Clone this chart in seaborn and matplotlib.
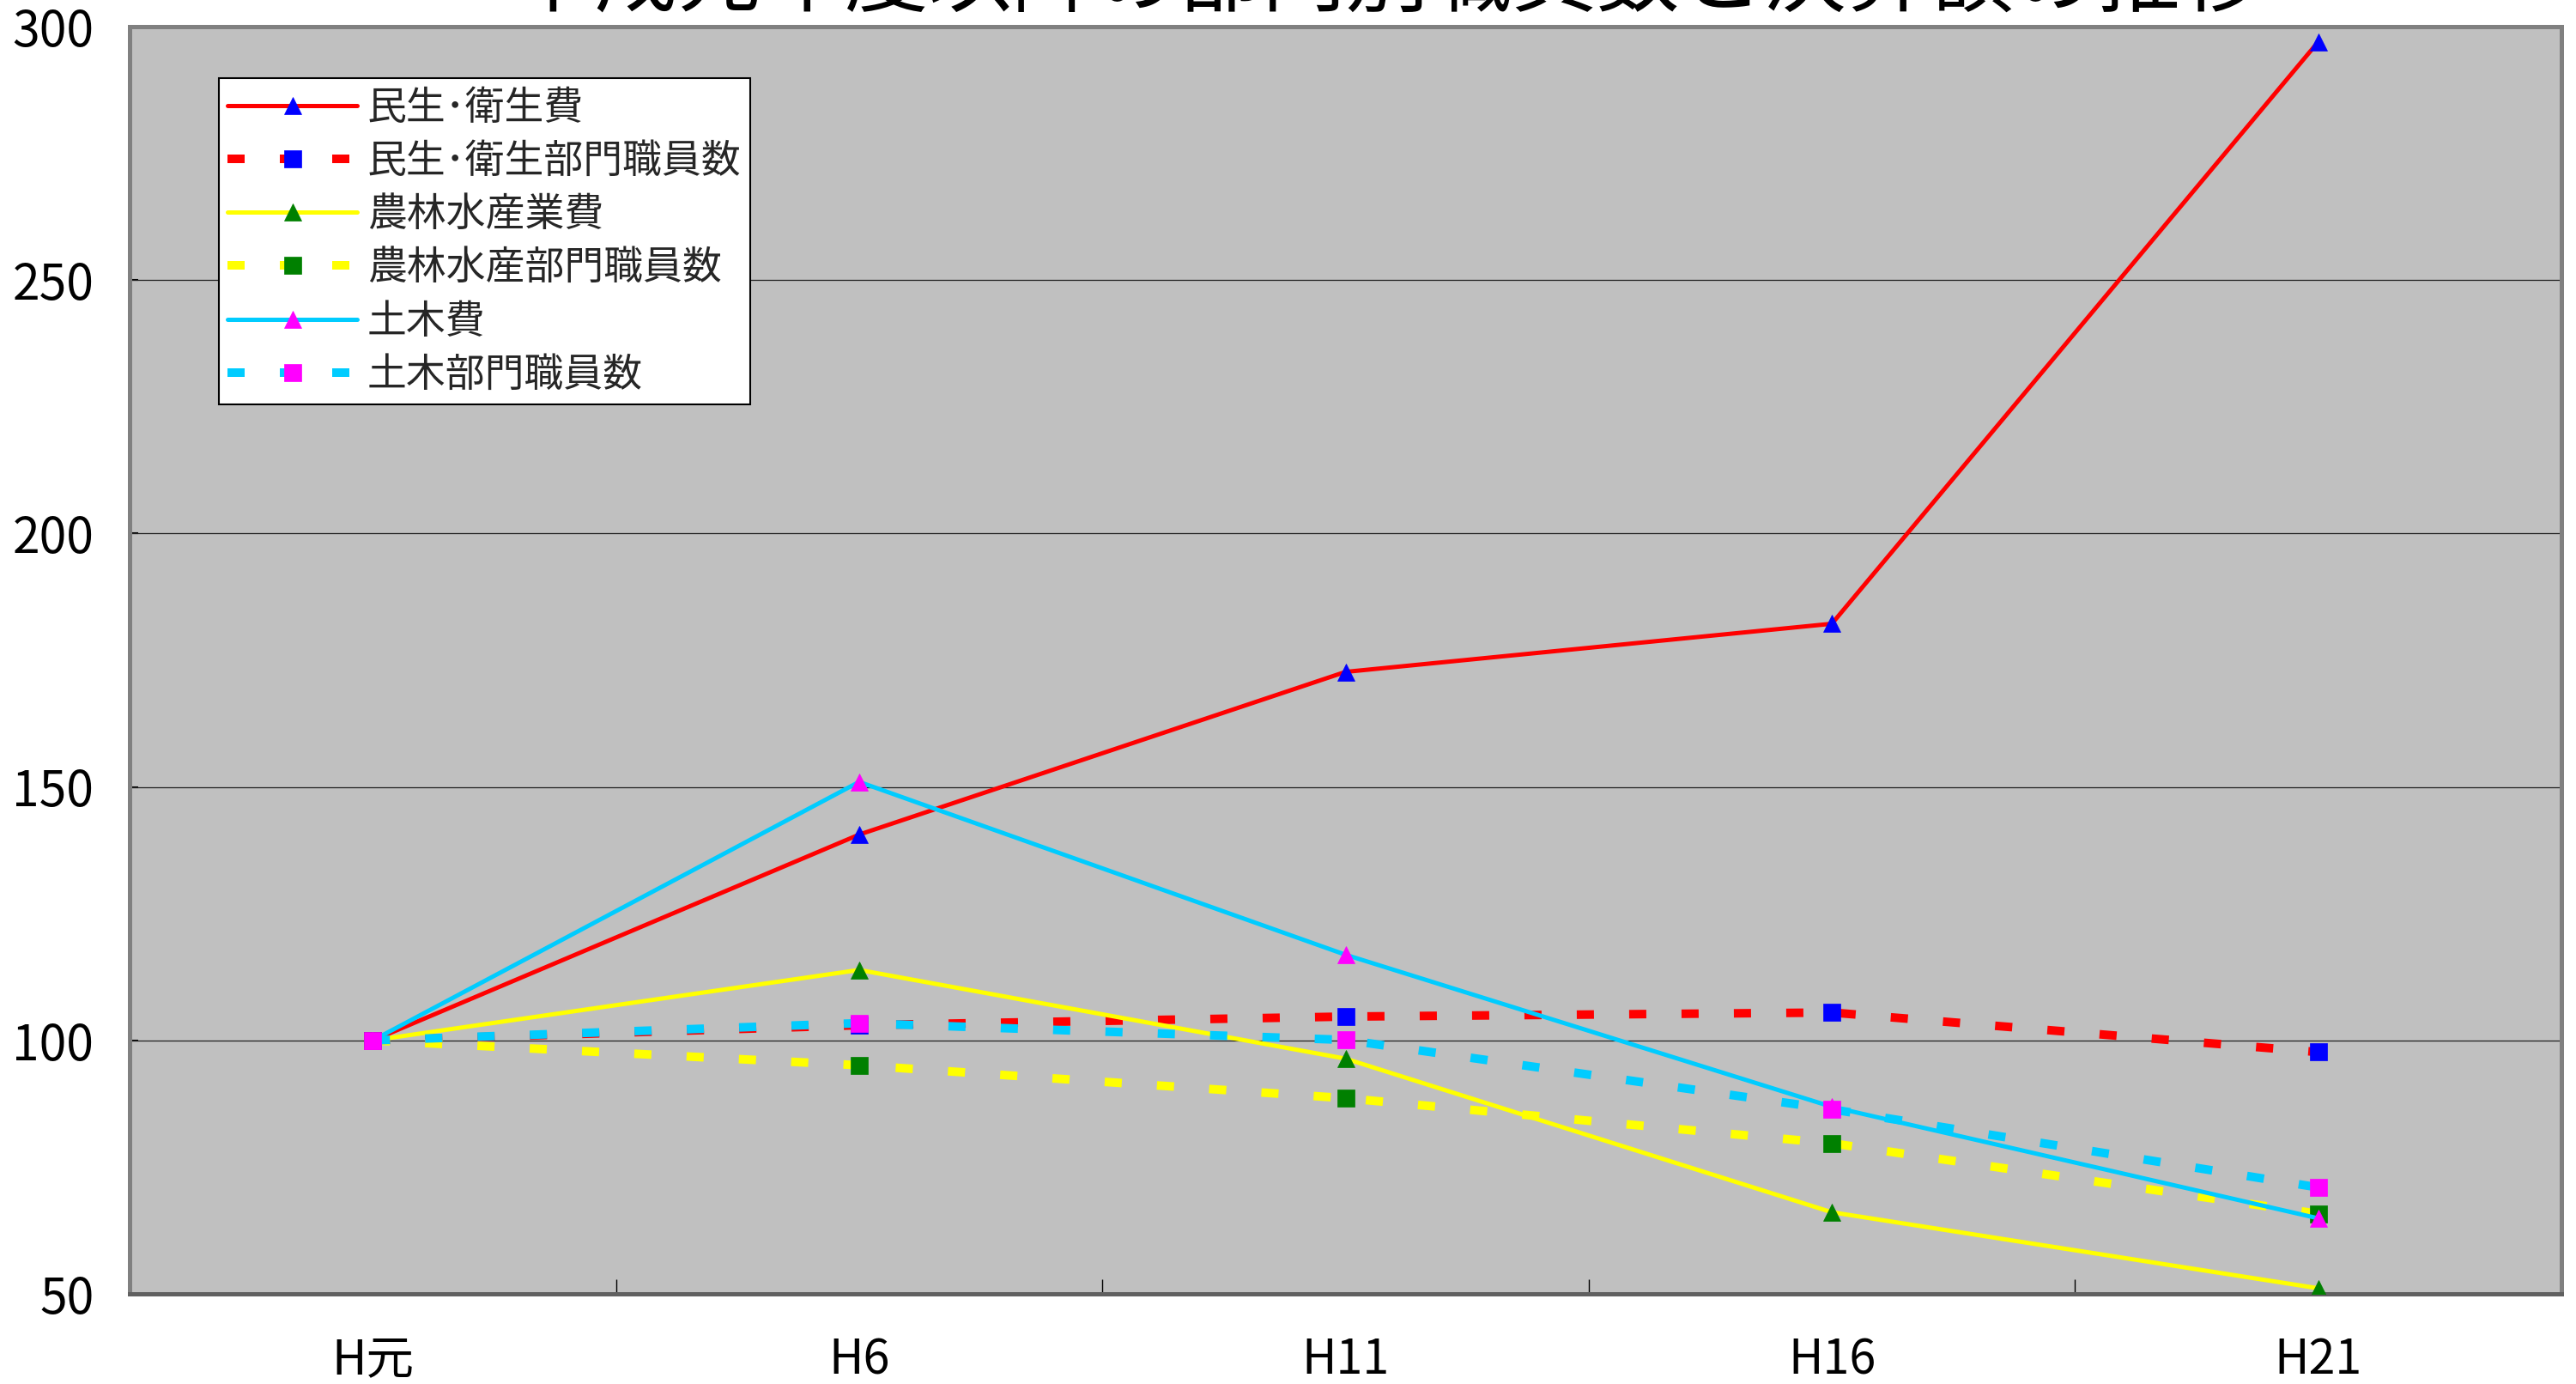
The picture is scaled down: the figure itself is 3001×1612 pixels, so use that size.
import matplotlib
matplotlib.use("Agg")
import matplotlib.pyplot as plt
import seaborn as sns
import pandas as pd

# ---- data ----
categories = ["H元", "H6", "H11", "H16", "H21"]
minsei_hi = [100, 140.6, 172.7, 182.2, 297.0]
minsei_shokuin = [100, 103.0, 104.7, 105.5, 97.7]
norin_hi = [100, 113.9, 96.4, 66.1, 51.1]
norin_shokuin = [100, 95.1, 88.6, 79.7, 65.8]
doboku_hi = [100, 151.0, 116.9, 86.9, 64.9]
doboku_shokuin = [100, 103.4, 100.1, 86.4, 71.0]
series_labels = ["民生･衛生費", "民生･衛生部門職員数", "農林水産業費",
                 "農林水産部門職員数", "土木費", "土木部門職員数"]
title = "平成元年度以降の部門別職員数と決算額の推移"
yticks = [50, 100, 150, 200, 250, 300]

sns.set_theme(style="white")
plt.rcParams['font.family'] = ['Noto Sans CJK JP', 'DejaVu Sans']

W, H = 3001, 1612
fig = plt.figure(figsize=(W / 100, H / 100), dpi=100)
L, R, T, B = 151, 2984, 31, 1507
ax = fig.add_axes([L / W, (H - B) / H, (R - L) / W, (B - T) / H])
ax.set_facecolor("#C0C0C0")

series = [
    (minsei_hi, "#FF0000", "^", "#0000FF", "solid"),
    (minsei_shokuin, "#FF0000", "s", "#0000FF", "dash"),
    (norin_hi, "#FFFF00", "^", "#008000", "solid"),
    (norin_shokuin, "#FFFF00", "s", "#008000", "dash"),
    (doboku_hi, "#00CCFF", "^", "#FF00FF", "solid"),
    (doboku_shokuin, "#00CCFF", "s", "#FF00FF", "dash"),
]

for (vals, lc, mk, mc, st), lab in zip(series, series_labels):
    df = pd.DataFrame({"x": categories, "y": vals})
    if st == "solid":
        lw = 3.6
        ls = "-"
    else:
        lw = 7.2
        ls = (0, (2, 4.1))
    sns.lineplot(data=df, x="x", y="y", ax=ax, color=lc, linewidth=lw,
                 linestyle=ls, marker=mk, markersize=15, markerfacecolor=mc,
                 markeredgecolor=mc, markeredgewidth=0.5, label=lab,
                 sort=False, zorder=3)

ax.set_xlim(-0.5, 4.5)
ax.set_ylim(50, 300)
ax.set_yticks(yticks)
ax.set_yticklabels([str(v) for v in yticks])
ax.set_xticks(range(len(categories)))
ax.set_xticklabels(categories)
ax.set_xticks([i - 0.5 for i in range(len(categories) + 1)], minor=True)
ax.set_xlabel("")
ax.set_ylabel("")

ax.grid(False)
for v in yticks[1:-1]:
    ax.axhline(v, color="#202020", linewidth=0.9, zorder=1)

ax.tick_params(axis="x", which="major", length=0, labelsize=40, pad=35,
               colors="black")
ax.tick_params(axis="x", which="minor", direction="in", length=12,
               width=1, color="black", bottom=True)
ax.tick_params(axis="y", which="major", direction="in", length=7, width=1.5,
               labelsize=41, pad=30, colors="black", left=True)

for s in ["top", "left", "right"]:
    ax.spines[s].set_color("#808080")
    ax.spines[s].set_linewidth(3.6)
ax.spines["bottom"].set_color("#606060")
ax.spines["bottom"].set_linewidth(3.6)

leg = ax.legend(loc="upper left", bbox_to_anchor=((255 - L) / (R - L), 1 - (91 - T) / (B - T)),
                fontsize=33, frameon=True, fancybox=False, framealpha=1,
                edgecolor="black", facecolor="white", handlelength=3.3,
                handletextpad=0.25, labelspacing=0.30, borderpad=0.22,
                borderaxespad=0, numpoints=1)
leg.get_frame().set_linewidth(1.5)

fig.text(1617 / W, 1 - 6 / H, title, ha="center", va="baseline", fontsize=70,
         color="black")

fig.savefig("out.png", dpi=100, facecolor="white")
